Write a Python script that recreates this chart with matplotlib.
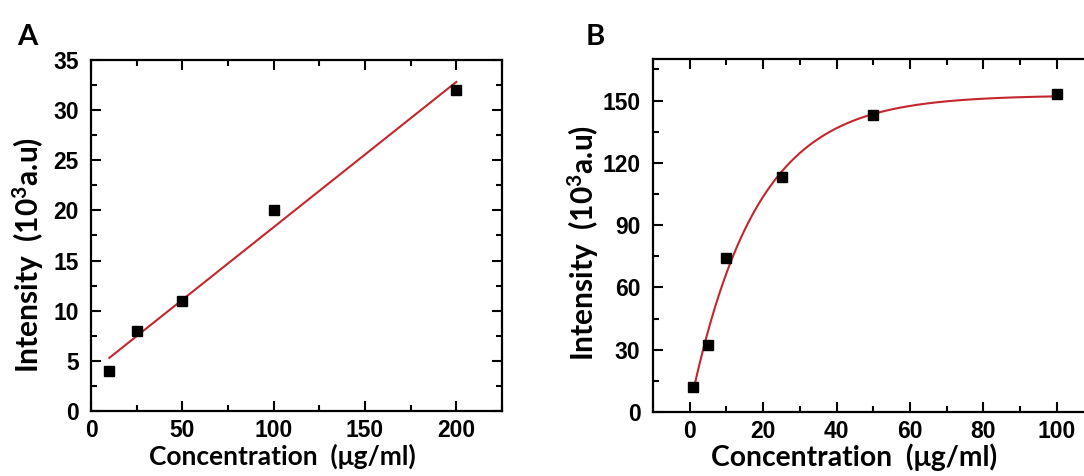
import numpy as np
import matplotlib
matplotlib.use("Agg")
import matplotlib.pyplot as plt
from matplotlib.ticker import MultipleLocator
from matplotlib.font_manager import FontProperties

plt.rcParams["mathtext.default"] = "regular"

# ── Data ──────────────────────────────────────────────────────────────────────
conc_a = [10, 25, 50, 100, 200]
inten_a = [4, 8, 11, 20, 32]

conc_b = [1, 5, 10, 25, 50, 100]
inten_b = [12, 32.5, 74, 113, 143, 153]

RED = "#c4262e"
TICK_FONT = dict(family="Liberation Sans", weight="bold", size=16.5)
YLABEL_FONT = dict(family="Lato", weight="bold", size=21.5)


def exp_saturation_fit(x, y):
    # y = A + B*exp(-x/t): grid search on t, linear least squares for A, B
    x = np.asarray(x, float)
    y = np.asarray(y, float)
    best = None
    for t in np.linspace(2, 60, 2000):
        M = np.column_stack([np.ones_like(x), np.exp(-x / t)])
        coef, *_ = np.linalg.lstsq(M, y, rcond=None)
        err = np.sum((M @ coef - y) ** 2)
        if best is None or err < best[0]:
            best = (err, coef, t)
    _, (a, b), t = best
    return lambda xx: a + b * np.exp(-np.asarray(xx) / t)


def style_axes(ax, xmaj, xmin, ymaj, ymin, xlab_pos, ylab_pos, xlab_size):
    ax.xaxis.set_major_locator(MultipleLocator(xmaj))
    ax.xaxis.set_minor_locator(MultipleLocator(xmin))
    ax.yaxis.set_major_locator(MultipleLocator(ymaj))
    ax.yaxis.set_minor_locator(MultipleLocator(ymin))
    ax.tick_params(which="both", direction="in", top=True, right=True, width=1.5)
    ax.tick_params(which="major", length=7)
    ax.tick_params(which="minor", length=4)
    ax.tick_params(axis="x", which="major", pad=6)
    ax.tick_params(axis="y", which="major", pad=9)
    for s in ax.spines.values():
        s.set_linewidth(1.6)
    for lab in ax.get_xticklabels() + ax.get_yticklabels():
        lab.set_fontproperties(FontProperties(**TICK_FONT))
    ax.set_xlabel("Concentration  (\u03bcg/ml)",
                  fontdict=dict(family="Lato", weight="bold", size=xlab_size))
    ax.set_ylabel("Intensity  (10$^{3}$a.u)", fontdict=YLABEL_FONT)
    ax.xaxis.set_label_coords(*xlab_pos)
    ax.yaxis.set_label_coords(*ylab_pos)


fig = plt.figure(figsize=(10.84, 4.76), dpi=100)

# ── Panel A: linear fit ───────────────────────────────────────────────────────
ax_a = fig.add_axes([0.0840, 0.1366, 0.3791, 0.7374])
slope, icpt = np.polyfit(conc_a, inten_a, 1)
xfit_a = np.array([min(conc_a), max(conc_a)])
ax_a.plot(xfit_a, slope * xfit_a + icpt, color=RED, linewidth=1.5)
ax_a.plot(conc_a, inten_a, "s", color="black", markersize=7.5)
ax_a.set_xlim(0, 225)
ax_a.set_ylim(0, 35)
style_axes(ax_a, 50, 25, 5, 2.5, (0.465, -0.092), (-0.109, 0.444), 19)
fig.text(0.016, 0.905, "A", fontsize=21, fontweight="bold", family="Lato")

# ── Panel B: exponential saturation fit ──────────────────────────────────────
ax_b = fig.add_axes([0.6024, 0.1345, 0.4065, 0.7415])
fit_b = exp_saturation_fit(conc_b, inten_b)
xfit_b = np.linspace(min(conc_b), max(conc_b), 300)
ax_b.plot(xfit_b, fit_b(xfit_b), color=RED, linewidth=1.5)
ax_b.plot(conc_b, inten_b, "s", color="black", markersize=7.5)
ax_b.set_xlim(-10, 110)
ax_b.set_ylim(0, 170)
style_axes(ax_b, 20, 10, 30, 15, (0.456, -0.088), (-0.118, 0.48), 20.3)
fig.text(0.540, 0.905, "B", fontsize=21, fontweight="bold", family="Lato")

fig.savefig("out.png", dpi=100)
